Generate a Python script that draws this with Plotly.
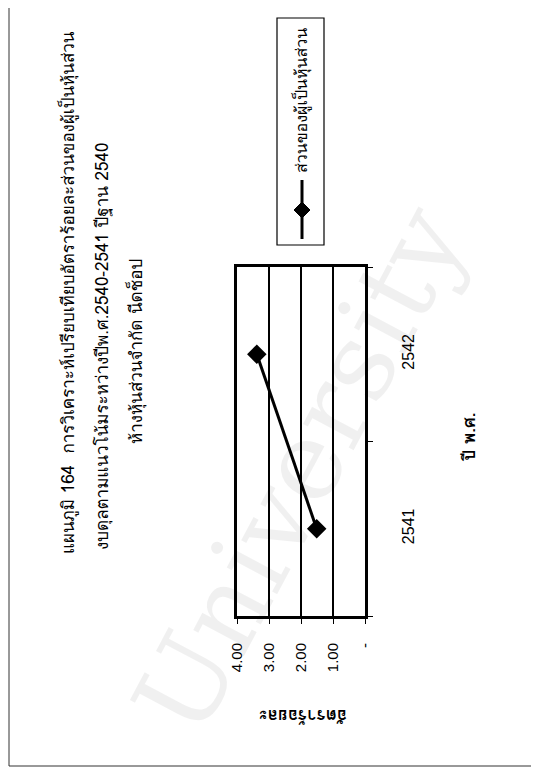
import plotly.graph_objects as go

W, H = 539, 769
OFF = 8  # default body margin of the html page
# plot area in page pixels (left, right, top, bottom)
L, R, T, B = 237, 365, 267, 616

years = ["2541", "2542"]
values = [1.51, 3.38]
value_ticks = [0, 1, 2, 3, 4]
value_ticktext = ["-", "1.00", "2.00", "3.00", "4.00"]

title_lines = [
    "แผนภูมิ 164  การวิเคราะห์เปรียบเทียบอัตราร้อยละส่วนของผู้เป็นหุ้นส่วน",
    "งบดุลตามแนวโน้มระหว่างปีพ.ศ.2540-2541 ปีฐาน 2540",
    "ห้างหุ้นส่วนจำกัด นีดช็อป",
]
series_name = "ส่วนของผู้เป็นหุ้นส่วน"
value_title = "อัตราร้อยละ"
year_title = "ปี พ.ศ."


def px(x):
    return (x - L) / (R - L)


def py(y):
    return (B - y) / (B - T)


FONT = "Liberation Sans, Arial, sans-serif"
THAI = "Waree, Tahoma, Loma, Garuda, Liberation Sans, sans-serif"

fig = go.Figure()
fig.add_trace(go.Scatter(
    x=values, y=years, mode="lines+markers", name=series_name,
    line=dict(color="black", width=3),
    marker=dict(symbol="diamond", size=15, color="black"),
    showlegend=False,
))

fig.update_xaxes(
    range=[4, 0], tickvals=value_ticks, ticktext=value_ticktext,
    tickangle=-90, ticks="outside", ticklen=5, tickcolor="black",
    showgrid=True, gridcolor="black", gridwidth=1.5,
    showline=True, linecolor="black", linewidth=3, mirror=True,
    zeroline=False, tickfont=dict(size=15, color="black", family=FONT),
    ticklabelstandoff=13,
)
fig.update_yaxes(
    type="category", categoryorder="array", categoryarray=years,
    range=[-0.5, len(years) - 0.5],
    side="right", tickangle=-90, tickson="boundaries",
    ticks="outside", ticklen=5, tickcolor="black",
    showgrid=False, showline=True, linecolor="black", linewidth=3, mirror=True,
    tickfont=dict(size=16, color="black", family=FONT),
    ticklabelstandoff=27,
)


def label(text, x, y, size, angle=-90):
    return dict(text=text, x=px(x), y=py(y), xref="paper", yref="paper",
                xanchor="center", yanchor="middle", showarrow=False,
                textangle=angle, font=dict(size=size, color="black", family=THAI))


ann = [
    label(title_lines[0], 67, 293, 17),
    label(title_lines[1], 101, 347, 17),
    label(title_lines[2], 135, 352, 17),
    label("<b>" + value_title + "</b>", 303, 717, 17, 180),
    label("<b>" + year_title + "</b>", 468, 438, 17),
    label(series_name, 301, 101, 16),
]
# faint watermark
ann.append(dict(text="University", x=px(300), y=py(470), xref="paper", yref="paper",
                xanchor="center", yanchor="middle",
                showarrow=False, textangle=-62,
                font=dict(size=110, color="rgba(0,0,0,0.06)", family="DejaVu Serif")))

shapes = [
    # page border
    dict(type="rect", xref="paper", yref="paper", x0=px(9), x1=px(535),
         y0=py(766), y1=py(1), line=dict(color="#333", width=1)),
    # legend box
    dict(type="rect", xref="paper", yref="paper", x0=px(277), x1=px(324),
         y0=py(245), y1=py(18), line=dict(color="black", width=1.2)),
    dict(type="line", xref="paper", yref="paper", x0=px(302), x1=px(302),
         y0=py(180), y1=py(239), line=dict(color="black", width=3)),
    dict(type="path", xref="paper", yref="paper",
         path="M {} {} L {} {} L {} {} L {} {} Z".format(
             px(294), py(210), px(302), py(202), px(310), py(210), px(302), py(218)),
         fillcolor="black", line=dict(color="black", width=1)),
]

fig.update_layout(
    width=W - OFF, height=H - OFF,
    margin=dict(l=L - OFF, r=W - R, t=T - OFF, b=H - B),
    paper_bgcolor="white", plot_bgcolor="white",
    annotations=ann, shapes=shapes,
)

fig.write_html("out.html")
